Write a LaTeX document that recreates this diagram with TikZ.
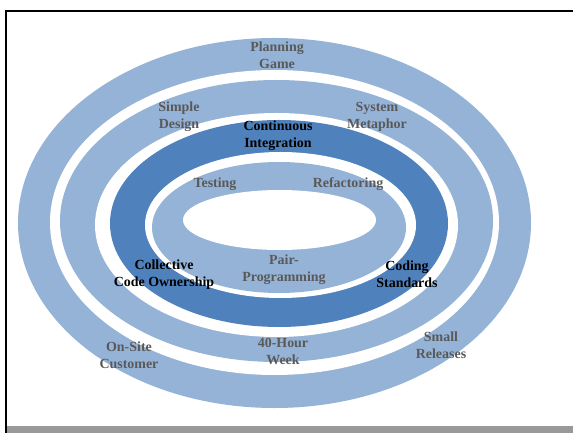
\documentclass[tikz,border=0pt]{standalone}
\usepackage{fontspec}
\setmainfont{Liberation Serif}
\definecolor{lightband}{HTML}{95B3D7}
\definecolor{darkband}{HTML}{4F81BD}
\definecolor{labelgray}{HTML}{595959}
\definecolor{bargray}{HTML}{999999}
\begin{document}
\begin{tikzpicture}[x=1bp,y=-1bp,
  lbl/.style={font=\fontsize{14}{17}\selectfont\bfseries, text=labelgray, align=center, inner sep=0pt},
  dlbl/.style={lbl, text=black}]
\useasboundingbox (0,0) rectangle (573,433);
\fill[white] (0,0) rectangle (573,433);
% rings
\fill[lightband] (274.5,223) ellipse [x radius=256.5bp, y radius=185bp];
\fill[white]     (274.5,222.5) ellipse [x radius=224.5bp, y radius=152.5bp];
\fill[lightband] (276.5,221) ellipse [x radius=216.5bp, y radius=141bp];
\fill[white]     (276.5,225) ellipse [x radius=181.5bp, y radius=112bp];
\fill[darkband]  (279,223.5) ellipse [x radius=169bp, y radius=103.5bp];
\fill[white]     (280.5,225) ellipse [x radius=135.5bp, y radius=73bp];
\fill[lightband] (279,227.5) ellipse [x radius=127bp, y radius=65.5bp];
\fill[white]     (279.5,220) ellipse [x radius=96.5bp, y radius=30bp];
% frame
\draw[line width=2bp] (6,433) -- (6,11.5) -- (573,11.5);
\fill[bargray] (7,426) rectangle (573,433);
% labels
\node[lbl]  (pg)  at (277,55)    {Planning\\Game};
\node[lbl]  (sd)  at (179,117)   {Simple\\Design};
\node[lbl]  (sm)  at (377,117)   {System\\Metaphor};
\node[dlbl] (ci)  at (278,135.5) {Continuous\\Integration};
\node[lbl]  (te)  at (215,184)   {Testing};
\node[lbl]  (re)  at (348,184)   {Refactoring};
\node[dlbl] (cco) at (164,274.5) {Collective\\Code Ownership};
\node[lbl]  (pp)  at (284,269.5) {Pair-\\Programming};
\node[dlbl] (cs)  at (407,274.5) {Coding\\Standards};
\node[lbl]  (osc) at (129,355.5) {On-Site\\Customer};
\node[lbl]  (fh)  at (283,351)   {40-Hour\\Week};
\node[lbl]  (sr)  at (441,345.5) {Small\\Releases};
\end{tikzpicture}
\end{document}
